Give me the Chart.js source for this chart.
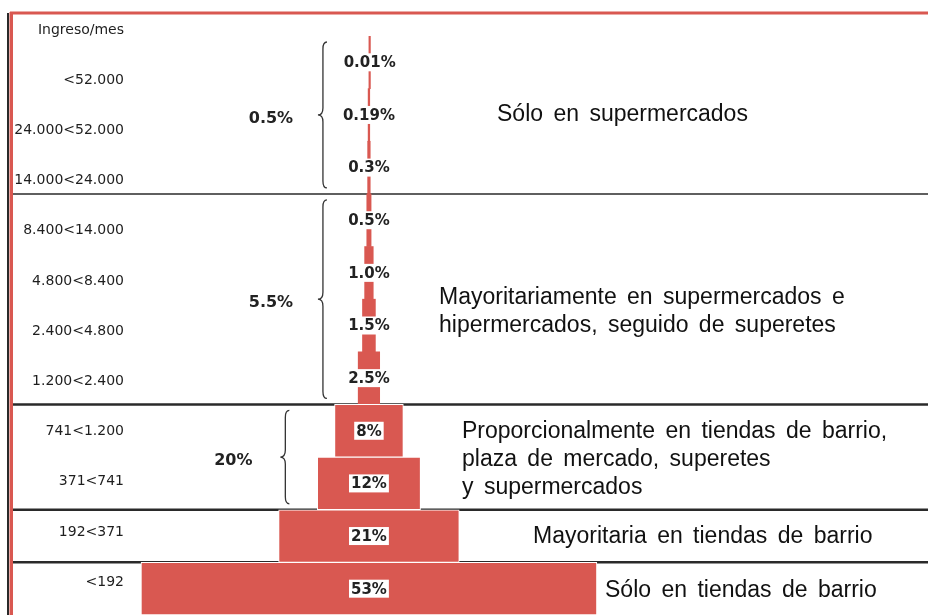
<!DOCTYPE html>
<html>
<head>
<meta charset="utf-8">
<script src="https://cdn.jsdelivr.net/npm/chart.js@4.4.0/dist/chart.umd.min.js"></script>
<style>
  body { margin: 0; background: #fff; }
  #wrap { width: 928px; height: 615px; }
</style>
</head>
<body>
<div id="wrap"><canvas id="piramide"></canvas></div>
<script>
// datos
const encabezado = 'Ingreso/mes';
const ingresos = ['<52.000', '24.000<52.000', '14.000<24.000', '8.400<14.000', '4.800<8.400',
    '2.400<4.800', '1.200<2.400', '741<1.200', '371<741', '192<371', '<192'];
const participacion = [0.01, 0.19, 0.3, 0.5, 1.0, 1.5, 2.5, 8, 12, 21, 53];
const grupoInicio = [0, 3, 7];
const grupoFin = [2, 6, 8];
const notas = [
    ['Sólo en supermercados'],
    ['Mayoritariamente en supermercados e', 'hipermercados, seguido de superetes'],
    ['Proporcionalmente en tiendas de barrio,', 'plaza de mercado, superetes', 'y supermercados'],
    ['Mayoritaria en tiendas de barrio'],
    ['Sólo en tiendas de barrio']
];
const notaInicio = [0, 3, 7, 9, 10];
const notaFin = [2, 6, 8, 9, 10];

const rojo = '#d95851';
const oscuro = '#2a2a2a';

const fmt = v => {
    v = Math.round(v * 100) / 100;
    return (Number.isInteger(v) && v < 5 ? v.toFixed(1) : String(v)) + '%';
};

const decoracion = {
    id: 'decoracion',
    beforeDatasetsDraw(chart) {
        const ctx = chart.ctx;
        const y = chart.scales.y;
        const h = y.getPixelForValue(1) - y.getPixelForValue(0);
        ctx.save();
        ctx.strokeStyle = oscuro;
        notaFin.slice(0, -1).forEach((fin, k) => {
            const py = y.getPixelForValue(fin) + h / 2;
            ctx.lineWidth = k === 0 ? 1.5 : 2.5;
            ctx.beginPath();
            ctx.moveTo(10, py);
            ctx.lineTo(928, py);
            ctx.stroke();
        });
        ctx.restore();
    },
    afterDatasetsDraw(chart) {
        const ctx = chart.ctx;
        const x = chart.scales.x;
        const y = chart.scales.y;
        const h = y.getPixelForValue(1) - y.getPixelForValue(0);
        const cero = x.getPixelForValue(0);
        const barras = chart.getDatasetMeta(0).data;
        ctx.save();

        // etiquetas de las barras
        ctx.font = 'bold 15px "DejaVu Sans"';
        ctx.textAlign = 'center';
        ctx.textBaseline = 'middle';
        barras.forEach((b, i) => {
            const txt = fmt(participacion[i]);
            const cx = (b.x + b.base) / 2;
            const w = ctx.measureText(txt).width;
            ctx.fillStyle = '#fff';
            ctx.fillRect(cx - w / 2 - 2, b.y - 9, w + 4, 18);
            ctx.fillStyle = '#222';
            ctx.fillText(txt, cx, b.y + 1);
        });

        // llaves y totales por grupo
        ctx.strokeStyle = '#333';
        ctx.lineWidth = 1.3;
        grupoInicio.forEach((ini, g) => {
            const fin = grupoFin[g];
            const top = y.getPixelForValue(ini) - h / 2 + 6;
            const bot = y.getPixelForValue(fin) + h / 2 - 6;
            const mid = (top + bot) / 2;
            let izq = cero;
            let total = 0;
            for (let i = ini; i <= fin; i++) {
                izq = Math.min(izq, barras[i].base, barras[i].x);
                total += participacion[i];
            }
            const bx = Math.min(cero - 46, izq - 32);
            ctx.beginPath();
            ctx.moveTo(bx + 4, top);
            ctx.quadraticCurveTo(bx, top, bx, top + 7);
            ctx.lineTo(bx, mid - 7);
            ctx.quadraticCurveTo(bx, mid, bx - 5, mid);
            ctx.quadraticCurveTo(bx, mid, bx, mid + 7);
            ctx.lineTo(bx, bot - 7);
            ctx.quadraticCurveTo(bx, bot, bx + 4, bot);
            ctx.stroke();
            ctx.font = 'bold 16px "DejaVu Sans"';
            ctx.fillStyle = '#222';
            ctx.fillText(fmt(total), bx - 52, mid + 4);
        });

        // ingresos a la izquierda
        ctx.font = '14px "DejaVu Sans"';
        ctx.textAlign = 'right';
        ctx.fillStyle = '#1e1e1e';
        [encabezado].concat(ingresos).forEach((t, i) => {
            ctx.fillText(t, 124, 30 + i * 50.2);
        });

        // notas a la derecha
        const notaX = [497, 439, 462, 533, 605];
        const notaDy = [0, 12, 3, 1, 2];
        ctx.font = '23px "Liberation Sans"';
        ctx.textAlign = 'left';
        ctx.fillStyle = '#111';
        if ('wordSpacing' in ctx) ctx.wordSpacing = '4px';
        notas.forEach((lineas, n) => {
            const mid = (y.getPixelForValue(notaInicio[n]) + y.getPixelForValue(notaFin[n])) / 2 + notaDy[n];
            lineas.forEach((l, j) => {
                ctx.fillText(l, notaX[n], mid + (j - (lineas.length - 1) / 2) * 28);
            });
        });

        // marco
        ctx.fillStyle = rojo;
        ctx.fillRect(10, 11.5, 918, 3);
        ctx.fillStyle = oscuro;
        ctx.fillRect(7, 13, 2, 602);
        ctx.fillStyle = rojo;
        ctx.fillRect(9.5, 12, 3.5, 603);
        ctx.restore();
    }
};

new Chart(document.getElementById('piramide'), {
    type: 'bar',
    data: {
        labels: ingresos,
        datasets: [{
            data: participacion.map(v => [-v / 2, v / 2]),
            backgroundColor: rojo,
            borderColor: '#fff',
            borderWidth: c => participacion[c.dataIndex] >= 5 ? 1 : 0,
            borderSkipped: false,
            barPercentage: 1,
            categoryPercentage: 1,
            minBarLength: 1.5
        }]
    },
    options: {
        indexAxis: 'y',
        responsive: true,
        maintainAspectRatio: false,
        animation: false,
        layout: { padding: { top: 36, left: 12, right: 0, bottom: 0 } },
        scales: {
            x: { type: 'linear', min: -41.5, max: 65, display: false },
            y: { display: false }
        },
        plugins: {
            legend: { display: false },
            tooltip: { enabled: false }
        }
    },
    plugins: [decoracion]
});
</script>
</body>
</html>
